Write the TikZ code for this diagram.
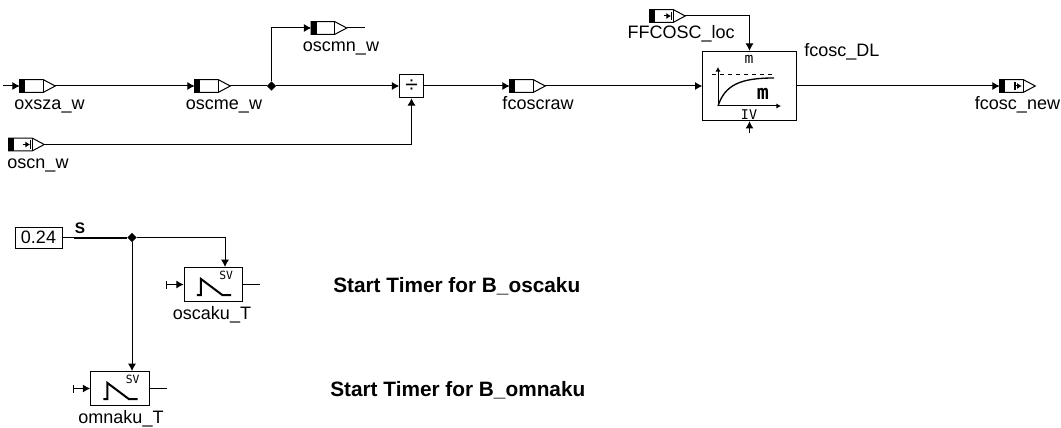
\documentclass[tikz,border=0pt]{standalone}
\usepackage{fontspec}
\setmainfont{Liberation Sans}
\newfontfamily\glyphfont{DejaVu Sans Mono}
\usetikzlibrary{arrows.meta,shapes.geometric}
\tikzset{
  wire/.style={black, line width=0.75pt},
  flow/.style={wire, -{Latex[length=5.5pt,width=6pt]}},
  sig/.style={inner sep=0pt, minimum width=26.25pt, minimum height=9pt},
  siglabel/.style={inner sep=0pt, anchor=base, font=\fontsize{13.5}{14}\selectfont},
  hint/.style={inner sep=0pt, anchor=base west, font=\fontsize{15.6}{16}\selectfont\bfseries},
  timerbox/.style={draw, line width=0.75pt, inner sep=0pt, minimum width=44pt, minimum height=26pt},
  blockbox/.style={draw, line width=0.75pt, inner sep=0pt},
  dot/.style={diamond, fill=black, inner sep=0pt, minimum size=7pt}
}
% signal symbol: #1 name, #2 position
\newcommand{\sigbody}[2]{
  \node[sig] (#1) at (#2) {};
  \fill[black] (#1.north west) rectangle ([xshift=4pt]#1.south west);
  \draw[wire] (#1.north west) -- ([xshift=17.8pt]#1.north west) -- (#1.east)
    -- ([xshift=17.8pt]#1.south west) -- (#1.south west) -- cycle;
  \draw[wire] ([xshift=17.8pt]#1.north west) -- ([xshift=17.8pt]#1.south west);
}
% small marker inside a signal symbol
\newcommand{\sigmark}[1]{
  \draw[wire, -{Latex[length=3.5pt,width=4.5pt]}] ([xshift=10.5pt]#1.west) -- ([xshift=16pt]#1.west);
  \draw[black, line width=1pt] ([xshift=16.3pt,yshift=3pt]#1.west) -- ([xshift=16.3pt,yshift=-3pt]#1.west);
}
% same marker, output direction
\newcommand{\sigmarkout}[1]{
  \draw[black, line width=1pt] ([xshift=11.5pt,yshift=3pt]#1.west) -- ([xshift=11.5pt,yshift=-3pt]#1.west);
  \draw[wire, -{Latex[length=3.5pt,width=4.5pt]}] ([xshift=11pt]#1.west) -- ([xshift=16.5pt]#1.west);
}
% timer symbol: #1 name
\newcommand{\timerramp}[1]{
  \node[inner sep=0pt, font=\glyphfont\fontsize{8.5}{8.5}\selectfont] (#1sv) at ([xshift=9.5pt,yshift=7pt]#1.center) {SV};
  \draw[black, line width=1.5pt] ([xshift=-12.4pt,yshift=-7.9pt]#1.center) -- ([xshift=-9.4pt,yshift=-7.9pt]#1.center)
    -- ([xshift=-9.4pt,yshift=4.1pt]#1.center) -- ([xshift=6.6pt,yshift=-7.9pt]#1.center) -- ([xshift=13.2pt,yshift=-7.9pt]#1.center);
}
\begin{document}
\begin{tikzpicture}[x=0.75pt, y=-0.75pt]
  \useasboundingbox (0,0) rectangle (1061,428);

  % Upper path
  \coordinate (oxstart) at (3,86);
  \sigbody{oxsza}{37.5,86}
  \node[siglabel] (oxszalab) at (49.5,110) {oxsza\_w};
  \draw[flow] (oxstart) -- (oxsza.west);

  \sigbody{oscme}{212.5,86}
  \node[siglabel] (oscmelab) at (224,110) {oscme\_w};
  \draw[flow] (oxsza.east) -- (oscme.west);

  \node[dot] (split) at (271.5,86) {};
  \draw[wire] (oscme.east) -- (split);

  \sigbody{oscmn}{329,28}
  \node[siglabel] (oscmnlab) at (341,52) {oscmn\_w};
  \coordinate (oscmnend) at (365,28);
  \draw[flow] (split) |- (oscmn.west);
  \draw[wire] (oscmn.east) -- (oscmnend);

  \sigbody{oscn}{26.5,144.5}
  \sigmark{oscn}
  \node[siglabel] (oscnlab) at (38,168) {oscn\_w};

  % Division
  \node[blockbox, minimum width=17.6pt, minimum height=17.6pt, font=\fontsize{17}{17}\selectfont] (divide) at (411.5,86) {÷};
  \draw[flow] (split) -- (divide.west);
  \draw[flow] (oscn.east) -| (divide.south);

  \sigbody{fcoscraw}{527.5,86}
  \node[siglabel] (fcoscrawlab) at (538,110) {fcoscraw};
  \draw[flow] (divide.east) -- (fcoscraw.west);

  % Filter
  \node[blockbox, minimum width=70pt, minimum height=52pt] (filter) at (749.5,86) {};
  \node[siglabel, anchor=base west] (filterlab) at (804,57) {fcosc\_DL};
  \draw[flow] (fcoscraw.east) -- (filter.west);

  \sigbody{ffcosc}{667.5,16}
  \sigmark{ffcosc}
  \node[siglabel, anchor=base east] (ffcosclab) at (735,39) {FFCOSC\_loc};
  \draw[flow] (ffcosc.east) -| (filter.north);

  \coordinate (ivstart) at (749.5,133);
  \draw[flow] (ivstart) -- (filter.south);

  % Filter curve
  \coordinate (origin) at (718,106);
  \coordinate (ytop) at (718,67);
  \coordinate (xend) at (781,106);
  \draw[wire, -{Latex[length=3.5pt,width=4pt]}] (origin) -- (ytop);
  \draw[wire, -{Latex[length=3.5pt,width=4pt]}] (origin) -- (xend);
  \draw[wire, dashed] (712,75) -- (774,75);
  \draw[black, line width=1pt] (origin) .. controls (725,85) and (740,78) .. (774,78);
  \node[inner sep=0pt, font=\glyphfont\fontsize{11}{11}\selectfont] (filtertop) at (749,59) {m};
  \node[inner sep=0pt, font=\glyphfont\fontsize{10}{10}\selectfont] (filteriv) at (749,115) {IV};
  \node[inner sep=0pt, font=\glyphfont\fontsize{15}{15}\selectfont\bfseries] (filterm) at (763,94) {m};

  % Output
  \sigbody{fcoscnew}{1017.5,86}
  \sigmarkout{fcoscnew}
  \node[siglabel] (fcoscnewlab) at (1017.5,110) {fcosc\_new};
  \draw[flow] (filter.east) -- (fcoscnew.west);

  % Timer constant
  \node[blockbox, minimum width=35.25pt, minimum height=15.75pt, font=\fontsize{13.5}{14}\selectfont] (const) at (38.5,237.5) {0.24};
  \node[inner sep=0pt, font=\fontsize{11.5}{12}\selectfont\bfseries] (slabel) at (80,228) {S};
  \node[dot] (fork) at (132,237.5) {};
  \draw[wire] (const.east) -- (fork);
  \draw[black, line width=1.5pt] (74,237.5) -- (fork);

  % Timers
  \node[timerbox] (oscakut) at (213.5,284.5) {};
  \timerramp{oscakut}
  \node[siglabel] (oscakulab) at (212,319) {oscaku\_T};
  \coordinate (oscakuset) at (225,267);
  \draw[flow] (fork) -| (oscakuset);
  \coordinate (oscakuin) at (166,284.5);
  \coordinate (oscakuout) at (260,284.5);
  \draw[flow, {Bar[width=6pt]}-{Latex[length=5.5pt,width=6pt]}] (oscakuin) -- (oscakut.west);
  \draw[wire] (oscakut.east) -- (oscakuout);

  \node[timerbox] (omnakut) at (120,388.5) {};
  \timerramp{omnakut}
  \node[siglabel] (omnakulab) at (121,423) {omnaku\_T};
  \coordinate (omnakuset) at (132,371);
  \draw[flow] (fork) -- (omnakuset);
  \coordinate (omnakuin) at (73,388.5);
  \coordinate (omnakuout) at (167,388.5);
  \draw[flow, {Bar[width=6pt]}-{Latex[length=5.5pt,width=6pt]}] (omnakuin) -- (omnakut.west);
  \draw[wire] (omnakut.east) -- (omnakuout);

  % Comments
  \node[hint] (hintosc) at (333,292.5) {Start Timer for B\_oscaku};
  \node[hint] (hintomn) at (330,396.5) {Start Timer for B\_omnaku};
\end{tikzpicture}
\end{document}
